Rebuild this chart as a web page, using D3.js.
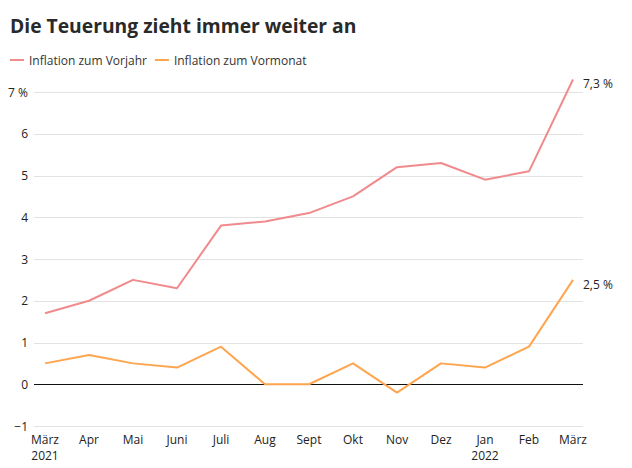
<!DOCTYPE html>
<html><head><meta charset="utf-8">
<script src="https://cdn.jsdelivr.net/npm/d3@7"></script>
<style>
body{margin:0;background:#fff;font-family:"Open Sans",sans-serif;}
svg text{font-family:"Open Sans",sans-serif;}
</style></head><body>
<svg id="c" width="632" height="468"></svg>
<script>
const months = ["März","Apr","Mai","Juni","Juli","Aug","Sept","Okt","Nov","Dez","Jan","Feb","März"];
const years = ["2021","","","","","","","","","","2022","",""];
const vorjahr = [1.7,2.0,2.5,2.3,3.8,3.9,4.1,4.5,5.2,5.3,4.9,5.1,7.3];
const vormonat = [0.5,0.7,0.5,0.4,0.9,0.0,0.0,0.5,-0.2,0.5,0.4,0.9,2.5];
const yTicks = [-1,0,1,2,3,4,5,6,7];
const seriesNames = ["Inflation zum Vorjahr","Inflation zum Vormonat"];
const colors = ["#f08a8c","#ffa54f"];
const endLabels = ["7,3 %","2,5 %"];

const svg = d3.select("#c");
const x = d3.scalePoint().domain(d3.range(months.length)).range([45,573]);
const y = d3.scaleLinear().domain([-1,7]).range([426,92]);
const gx0 = 34, gx1 = 583;

svg.append("text").attr("x",10).attr("y",33).attr("font-size",19.3).attr("font-weight",700).attr("fill","#2a2a2a").text("Die Teuerung zieht immer weiter an");

// legend
const lg = svg.append("g");
let lx = 10;
seriesNames.forEach((n,i)=>{
  lg.append("line").attr("x1",lx).attr("x2",lx+14).attr("y1",60).attr("y2",60).attr("stroke",colors[i]).attr("stroke-width",2);
  const t = lg.append("text").attr("x",lx+19).attr("y",64.5).attr("font-size",12).attr("fill","#333").text(n);
  lx += 19 + t.node().getComputedTextLength() + 8;
});

// grid
yTicks.forEach(v=>{
  const yy = Math.round(y(v)) + 0.5;
  svg.append("line").attr("x1",gx0).attr("x2",gx1).attr("y1",yy).attr("y2",yy)
    .attr("stroke", v===0 ? "#111" : "#e3e3e3").attr("stroke-width",1);
  svg.append("text").attr("x",28).attr("y",y(v)+4.5).attr("text-anchor","end").attr("font-size",12).attr("fill","#222")
    .text((v<0?"\u2212"+Math.abs(v):v) + (v===7?" %":""));
});

// x labels
months.forEach((m,i)=>{
  const t = svg.append("text").attr("x",x(i)).attr("y",444).attr("text-anchor","middle").attr("font-size",12).attr("fill","#222");
  t.append("tspan").attr("x",x(i)).text(m);
  if(years[i]) t.append("tspan").attr("x",x(i)).attr("dy",15.5).text(years[i]);
});

const line = d3.line().x((d,i)=>x(i)).y(d=>y(d));
[vorjahr,vormonat].forEach((s,k)=>{
  svg.append("path").attr("d",line(s)).attr("fill","none").attr("stroke",colors[k]).attr("stroke-width",2).attr("stroke-linejoin","round");
  svg.append("text").attr("x",583).attr("y",y(s[s.length-1])+9).attr("font-size",12).attr("fill","#222").text(endLabels[k]);
});
</script></body></html>
